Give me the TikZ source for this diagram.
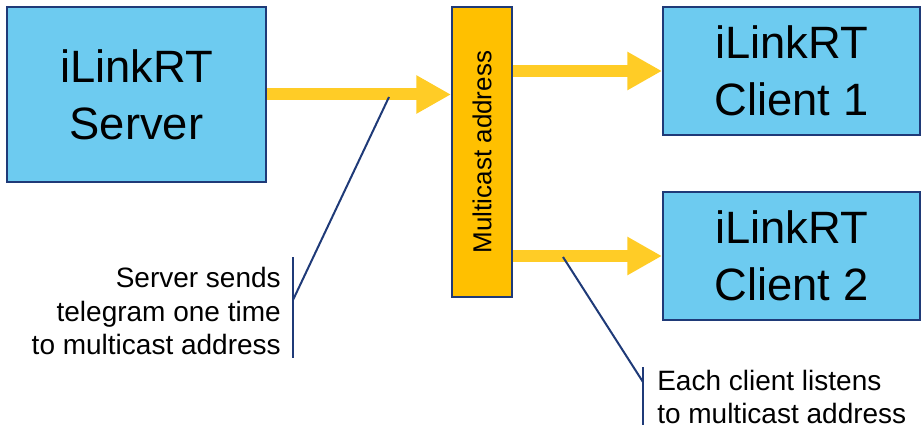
\documentclass[tikz,border=0pt]{standalone}
\usepackage{fontspec}
\setmainfont{Liberation Sans}
\usetikzlibrary{arrows.meta,backgrounds}

\definecolor{boxblue}{HTML}{6DCBF0}
\definecolor{navy}{HTML}{1F3A78}
\definecolor{mcorange}{HTML}{FFC000}
\definecolor{arrowyellow}{HTML}{FFCC26}

\begin{document}
\begin{tikzpicture}[
  x=0.75pt, y=-0.75pt,
  box/.style={draw=navy, fill=boxblue, line width=1.5pt, align=center, inner sep=0pt, font=\fontsize{34}{43}\selectfont},
  mcbox/.style={draw=navy, fill=mcorange, line width=1.5pt, minimum width=45pt, minimum height=217.5pt, inner sep=0pt},
  fat/.style={draw=arrowyellow, line width=9pt, -{Triangle[length=26pt, width=27pt]}},
  lead/.style={draw=navy, line width=1.5pt},
  note/.style={font=\fontsize{21}{25}\selectfont, inner sep=0pt}
]
\useasboundingbox (0,0) rectangle (921,428);
\node[box, minimum width=194.25pt, minimum height=131.25pt] (srv) at (136.5,94.5) {iLinkRT\\Server};
\node[mcbox] (mc) at (482,152) {};
\node[rotate=90, inner sep=0pt, font=\fontsize{19.5}{22}\selectfont] (mclabel) at (mc) {Multicast address};
\node[box, minimum width=192.75pt, minimum height=96pt] (cl1) at (791.5,71) {iLinkRT\\Client 1};
\node[box, minimum width=192.75pt, minimum height=96pt] (cl2) at (791.5,256) {iLinkRT\\Client 2};
\begin{scope}[on background layer]
\draw[fat] (srv.east) -- (mc.west |- srv.east);
\draw[fat] (mc.east |- cl1.west) -- (cl1.west);
\draw[fat] (mc.east |- cl2.west) -- (cl2.west);
\end{scope}
% callouts
\node[note, align=right, anchor=east] (srvnote) at (281,311) {Server sends\\telegram one time\\to multicast address};
\node[note, align=left, anchor=west] (clnote) at (657,397) {Each client listens\\to multicast address};
\coordinate (srvtip) at (389,97);
\coordinate (srvknee) at (293,300);
\coordinate (srvtop) at (293,257);
\coordinate (srvbot) at (293,358);
\draw[lead] (srvtop) -- (srvbot);
\draw[lead] (srvknee) -- (srvtip);
\coordinate (cltip) at (563,257);
\coordinate (clknee) at (643,382);
\coordinate (cltop) at (643,367);
\coordinate (clbot) at (643,425);
\draw[lead] (cltop) -- (clbot);
\draw[lead] (clknee) -- (cltip);
\end{tikzpicture}
\end{document}
